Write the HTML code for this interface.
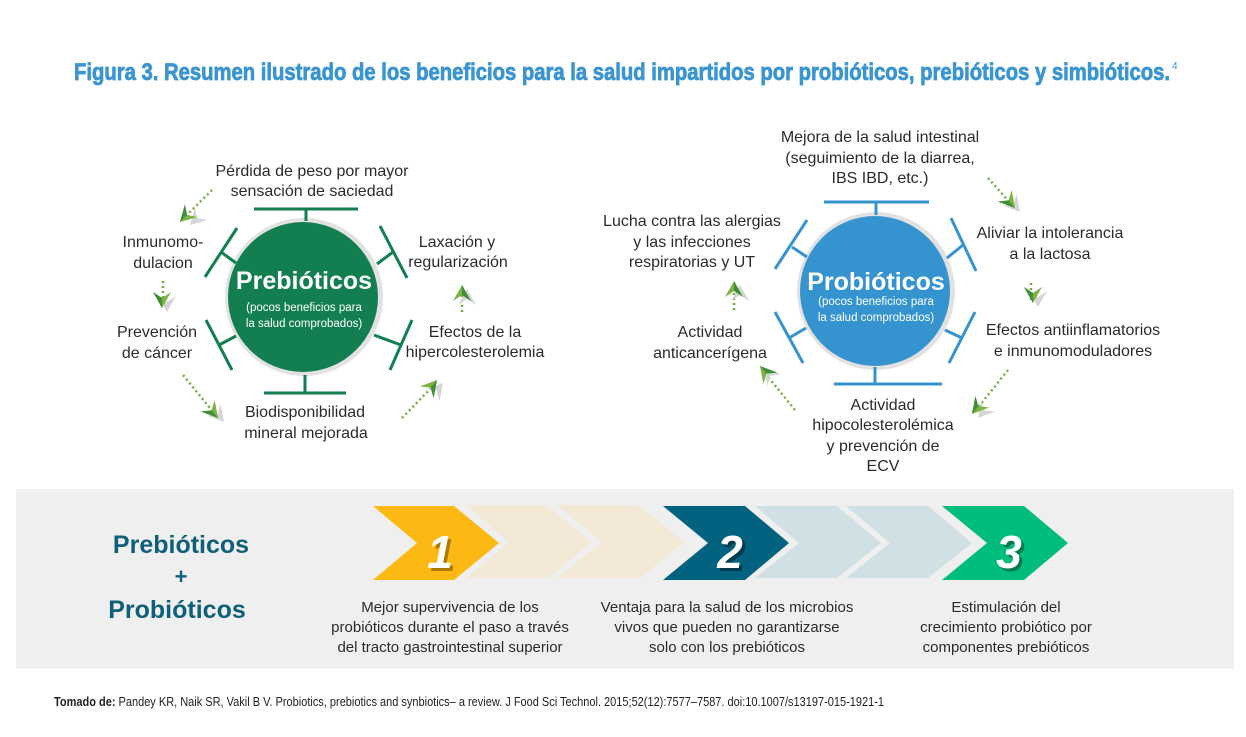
<!DOCTYPE html>
<html><head><meta charset="utf-8"><style>
html,body{margin:0;padding:0;background:#fff;}
svg{display:block;}
text{font-family:"Liberation Sans",sans-serif;}
</style></head><body>
<svg width="1246" height="737" viewBox="0 0 1246 737" xmlns="http://www.w3.org/2000/svg">
<defs>
<g id="ah"><path d="M0,0 L-16,-9 L-10,0 L-16,9 Z" fill="#7cb342"/><path d="M0,0 L-10,0 L-16,9 Z" fill="#3f8f3a"/></g>
<g id="ahg"><path d="M0,0 L-16,-9 L-10,0 L-16,9 Z" fill="#d6d6d6"/></g>
</defs>
<rect width="1246" height="737" fill="#fff"/>
<text x="74" y="80" font-family="Liberation Sans, sans-serif" font-weight="bold" font-size="24" fill="#3a95d0" stroke="#3a95d0" stroke-width="0.8" textLength="1096" lengthAdjust="spacingAndGlyphs">Figura 3. Resumen ilustrado de los beneficios para la salud impartidos por probióticos, prebióticos y simbióticos.</text>
<text x="1172" y="69" font-size="10" fill="#3a95d0">4</text>

<!-- LEFT circle -->
<circle cx="304" cy="297" r="79" fill="#e2e2e2"/>
<circle cx="303" cy="297" r="75" fill="#137f51"/>
<g stroke="#137f51" stroke-width="3" fill="none">
<line x1="254" y1="209" x2="358" y2="209"/><line x1="306" y1="209" x2="306" y2="221"/>
<line x1="264" y1="393" x2="346" y2="393"/><line x1="305" y1="375" x2="305" y2="393"/>
<line x1="237" y1="228" x2="205" y2="277"/><line x1="221" y1="252" x2="236" y2="263"/>
<line x1="380" y1="226" x2="407" y2="278"/><line x1="393" y1="252" x2="377" y2="264"/>
<line x1="206" y1="320" x2="232" y2="370"/><line x1="219" y1="345" x2="236" y2="336"/>
<line x1="412" y1="320" x2="390" y2="370"/><line x1="401" y1="345" x2="374" y2="335"/>
</g>
<text x="304" y="289" text-anchor="middle" font-weight="bold" font-size="25" fill="#fff">Prebióticos</text>
<text x="304" y="311" text-anchor="middle" font-size="11.5" fill="#fff">(pocos beneficios para</text>
<text x="304" y="327" text-anchor="middle" font-size="11.5" fill="#fff">la salud comprobados)</text>

<g font-size="16" fill="#2b2b2b" text-anchor="middle">
<text x="312" y="176">Pérdida de peso por mayor</text>
<text x="312" y="196">sensación de saciedad</text>
<text x="163" y="247">Inmunomo-</text>
<text x="163" y="268">dulacion</text>
<text x="457" y="247">Laxación y</text>
<text x="458" y="267">regularización</text>
<text x="157" y="337">Prevención</text>
<text x="157" y="358">de cáncer</text>
<text x="475" y="337">Efectos de la</text>
<text x="475" y="357">hipercolesterolemia</text>
<text x="305" y="417">Biodisponibilidad</text>
<text x="306" y="438">mineral mejorada</text>
</g>

<!-- RIGHT circle -->
<circle cx="876" cy="291" r="79" fill="#e2e2e2"/>
<circle cx="875" cy="291" r="75" fill="#3594d0"/>
<g stroke="#3594d0" stroke-width="3" fill="none">
<line x1="824" y1="202" x2="929" y2="202"/><line x1="876" y1="202" x2="876" y2="215"/>
<line x1="834" y1="384" x2="942" y2="384"/><line x1="875" y1="367" x2="875" y2="384"/>
<line x1="807" y1="220" x2="775" y2="269"/><line x1="792" y1="247" x2="807" y2="257"/>
<line x1="951" y1="218" x2="976" y2="271"/><line x1="963" y1="245" x2="947" y2="258"/>
<line x1="775" y1="312" x2="803" y2="363"/><line x1="789" y1="338" x2="806" y2="328"/>
<line x1="975" y1="312" x2="949" y2="363"/><line x1="962" y1="338" x2="945" y2="330"/>
</g>
<text x="876" y="290" text-anchor="middle" font-weight="bold" font-size="25" fill="#fff">Probióticos</text>
<text x="876" y="305" text-anchor="middle" font-size="11.5" fill="#fff">(pocos beneficios para</text>
<text x="876" y="321" text-anchor="middle" font-size="11.5" fill="#fff">la salud comprobados)</text>

<g font-size="16" fill="#2b2b2b" text-anchor="middle">
<text x="880" y="142">Mejora de la salud intestinal</text>
<text x="880" y="163">(seguimiento de la diarrea,</text>
<text x="880" y="183">IBS IBD, etc.)</text>
<text x="692" y="226">Lucha contra las alergias</text>
<text x="692" y="247">y las infecciones</text>
<text x="692" y="267">respiratorias y UT</text>
<text x="1050" y="238">Aliviar la intolerancia</text>
<text x="1050" y="259">a la lactosa</text>
<text x="710" y="337">Actividad</text>
<text x="710" y="358">anticancerígena</text>
<text x="1073" y="335">Efectos antiinflamatorios</text>
<text x="1073" y="356">e inmunomoduladores</text>
<text x="883" y="410">Actividad</text>
<text x="883" y="430">hipocolesterolémica</text>
<text x="883" y="451">y prevención de</text>
<text x="883" y="471">ECV</text>
</g>

<!-- arrows -->
<g stroke-width="2.5" stroke-dasharray="2,3" fill="none">
<line x1="212" y1="190" x2="183" y2="219" stroke="#6fae3c"/>
<line x1="163" y1="281" x2="163" y2="305" stroke="#6fae3c"/>
<line x1="183" y1="375" x2="214" y2="413" stroke="#6fae3c"/>
<line x1="402" y1="418" x2="434" y2="385" stroke="#6fae3c"/>
<line x1="462" y1="312" x2="462" y2="290" stroke="#6fae3c"/>
<line x1="988" y1="178" x2="1012" y2="205" stroke="#6fae3c"/>
<line x1="1031" y1="283" x2="1031" y2="301" stroke="#6fae3c"/>
<line x1="1008" y1="370" x2="976" y2="410" stroke="#6fae3c"/>
<line x1="795" y1="410" x2="764" y2="372" stroke="#6fae3c"/>
<line x1="734" y1="310" x2="734" y2="286" stroke="#6fae3c"/>
</g>
<use href="#ahg" transform="translate(190,225) rotate(135)"/>
<use href="#ah" transform="translate(180,222) rotate(135)"/>
<use href="#ahg" transform="translate(167,312) rotate(90)"/>
<use href="#ah" transform="translate(162,308) rotate(90)"/>
<use href="#ahg" transform="translate(224,422) rotate(50)"/>
<use href="#ah" transform="translate(218,418) rotate(50)"/>
<use href="#ahg" transform="translate(443,383) rotate(-50)"/>
<use href="#ah" transform="translate(437,380) rotate(-50)"/>
<use href="#ahg" transform="translate(467,289) rotate(-90)"/>
<use href="#ah" transform="translate(462,285) rotate(-90)"/>
<use href="#ahg" transform="translate(1020,212) rotate(50)"/>
<use href="#ah" transform="translate(1015,208) rotate(50)"/>
<use href="#ahg" transform="translate(1038,307) rotate(90)"/>
<use href="#ah" transform="translate(1033,303) rotate(90)"/>
<use href="#ahg" transform="translate(978,418) rotate(130)"/>
<use href="#ah" transform="translate(972,414) rotate(130)"/>
<use href="#ahg" transform="translate(764,368) rotate(-130)"/>
<use href="#ah" transform="translate(760,366) rotate(-130)"/>
<use href="#ahg" transform="translate(740,285) rotate(-90)"/>
<use href="#ah" transform="translate(734,281) rotate(-90)"/>

<!-- bottom band -->
<rect x="16" y="489" width="1218" height="180" fill="#efefef"/>
<g font-weight="bold" fill="#0e5f7a" text-anchor="middle">
<text x="181" y="553" font-size="25">Prebióticos</text>
<text x="181" y="584" font-size="22">+</text>
<text x="177" y="618" font-size="25">Probióticos</text>
</g>
<polygon points="466,505 546,505 592,542 548,578 466,578 509,542" fill="#f3e8d5"/>
<polygon points="557,505 638,505 684,542 640,578 557,578 602,542" fill="#f3e8d5"/>
<polygon points="373,506 454,506 499,543 454,580 373,580 417,543" fill="#fdb913"/>
<polygon points="755,506 837,506 881,543 837,578 755,578 799,543" fill="#d1e0e4"/>
<polygon points="846,506 928,506 972,543 928,578 846,578 890,543" fill="#d1e0e4"/>
<polygon points="663,506 745,506 789,543 745,580 663,580 708,543" fill="#02627f"/>
<polygon points="942,506 1024,506 1068,543 1024,580 942,580 987,543" fill="#00bc7e"/>
<g font-weight="bold" font-style="italic" font-size="46" text-anchor="middle" font-family="Liberation Sans Narrow, Liberation Sans, sans-serif">
<text x="443" y="571" fill="#b07a00">1</text><text x="440" y="568" fill="#fff">1</text>
<text x="733" y="571" fill="#003a4c">2</text><text x="730" y="568" fill="#fff">2</text>
<text x="1012" y="571" fill="#007a50">3</text><text x="1009" y="568" fill="#fff">3</text>
</g>
<g font-size="15" fill="#2b2b2b" text-anchor="middle">
<text x="450" y="612">Mejor supervivencia de los</text>
<text x="450" y="632">probióticos durante el paso a través</text>
<text x="450" y="652">del tracto gastrointestinal superior</text>
<text x="727" y="612">Ventaja para la salud de los microbios</text>
<text x="727" y="632">vivos que pueden no garantizarse</text>
<text x="727" y="652">solo con los prebióticos</text>
<text x="1006" y="612">Estimulación del</text>
<text x="1006" y="632">crecimiento probiótico por</text>
<text x="1006" y="652">componentes prebióticos</text>
</g>
<text x="54" y="706" font-family="Liberation Sans Narrow, Liberation Sans, sans-serif" font-size="13" fill="#222" textLength="830" lengthAdjust="spacingAndGlyphs"><tspan font-weight="bold">Tomado de:</tspan> Pandey KR, Naik SR, Vakil B V. Probiotics, prebiotics and synbiotics– a review. J Food Sci Technol. 2015;52(12):7577–7587. doi:10.1007/s13197-015-1921-1</text>
</svg>
</body></html>
